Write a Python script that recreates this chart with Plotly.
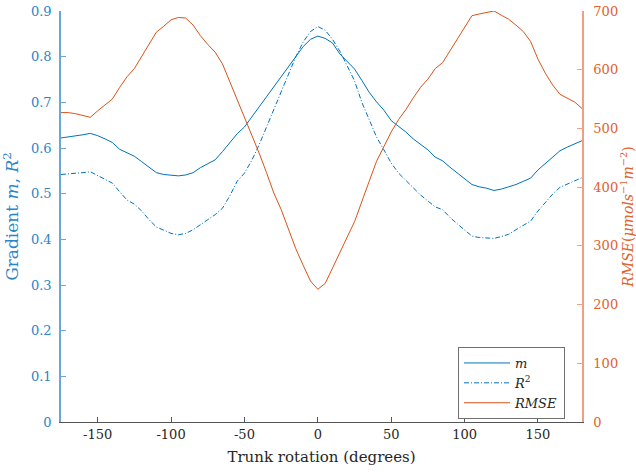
import plotly.graph_objects as go

# Trunk rotation angle (degrees), sampled every 5 degrees
rotation = list(range(-175, 181, 5))

# Gradient m of the fit at each rotation
gradient_m = [
    0.622, 0.624, 0.626, 0.629, 0.632, 0.627, 0.620, 0.612, 0.597, 0.590,
    0.582, 0.570, 0.558, 0.546, 0.542, 0.540, 0.539, 0.541, 0.546, 0.557,
    0.566, 0.574, 0.592, 0.612, 0.631, 0.646, 0.667, 0.690, 0.712, 0.734,
    0.757, 0.779, 0.801, 0.822, 0.838, 0.845, 0.840, 0.830, 0.806, 0.789,
    0.773, 0.748, 0.722, 0.701, 0.683, 0.660, 0.648, 0.635, 0.620, 0.607,
    0.596, 0.580, 0.572, 0.558, 0.546, 0.532, 0.520, 0.515, 0.512, 0.507,
    0.510, 0.515, 0.520, 0.527, 0.534, 0.552, 0.566, 0.580, 0.594, 0.602,
    0.609, 0.616,
]

# Coefficient of determination R^2
r_squared = [
    0.542, 0.543, 0.545, 0.546, 0.548, 0.540, 0.531, 0.523, 0.504, 0.486,
    0.477, 0.462, 0.443, 0.427, 0.420, 0.413, 0.410, 0.413, 0.421, 0.433,
    0.443, 0.454, 0.468, 0.495, 0.527, 0.545, 0.573, 0.607, 0.645, 0.683,
    0.722, 0.762, 0.800, 0.832, 0.855, 0.866, 0.858, 0.838, 0.812, 0.780,
    0.747, 0.700, 0.660, 0.624, 0.596, 0.567, 0.545, 0.528, 0.513, 0.497,
    0.483, 0.471, 0.465, 0.448, 0.434, 0.420, 0.407, 0.404, 0.403, 0.402,
    0.406, 0.411, 0.421, 0.430, 0.440, 0.462, 0.481, 0.499, 0.514, 0.521,
    0.527, 0.535,
]

# Root mean square error (umol s^-1 m^-2)
rmse = [
    527, 527, 525, 522, 519, 530, 540, 550, 570, 588,
    602, 622, 642, 664, 674, 685, 689, 688, 676, 658,
    643, 630, 610, 580, 548, 520, 490, 458, 425, 390,
    362, 327, 295, 267, 240, 226, 236, 262, 290, 315,
    341, 374, 410, 444, 469, 494, 515, 532, 552, 570,
    584, 602, 612, 632, 652, 670, 692, 695, 698, 700,
    693, 686, 676, 665, 648, 618, 594, 574, 558, 551,
    545, 534,
]

left_ticks = [0, 0.1, 0.2, 0.3, 0.4, 0.5, 0.6, 0.7, 0.8, 0.9]
right_ticks = [0, 100, 200, 300, 400, 500, 600, 700]
x_ticks = [-150, -100, -50, 0, 50, 100, 150]

BLUE = "#0072BD"
ORANGE = "#D95319"
SERIF = "DejaVu Serif"

fig = go.Figure()

fig.add_trace(go.Scatter(
    x=rotation, y=gradient_m, mode="lines", name="<i>m</i>",
    line=dict(color=BLUE, width=1.0), yaxis="y",
))
fig.add_trace(go.Scatter(
    x=rotation, y=r_squared, mode="lines", name="<i>R</i><sup>2</sup>",
    line=dict(color=BLUE, width=1.0, dash="5px,2px,1px,2px"), yaxis="y",
))
fig.add_trace(go.Scatter(
    x=rotation, y=rmse, mode="lines", name="<i>RMSE</i>",
    line=dict(color=ORANGE, width=1.0), yaxis="y2",
))

fig.update_layout(
    width=636, height=474,
    margin=dict(l=61, r=54, t=11, b=52, autoexpand=False),
    paper_bgcolor="white", plot_bgcolor="white",
    font=dict(family=SERIF, size=13, color="#262626"),
    showlegend=True,
    legend=dict(
        x=0.762, y=0.1825, xanchor="left", yanchor="top",
        bgcolor="white", bordercolor="#707070", borderwidth=1,
        font=dict(family=SERIF, size=13, color="#262626"),
        tracegroupgap=0, itemwidth=46,
    ),
    xaxis=dict(
        range=[-175, 180], tickvals=x_ticks,
        ticktext=[str(v) for v in x_ticks],
        ticks="inside", ticklen=5, tickcolor="#555555",
        showline=True, linecolor="#555555", linewidth=1,
        showgrid=False, zeroline=False, mirror=False, automargin=False,
        tickfont=dict(family=SERIF, size=13, color="#262626"),
        title=dict(text="Trunk rotation (degrees)", standoff=10,
                   font=dict(family=SERIF, size=15, color="#262626")),
    ),
    yaxis=dict(
        range=[0, 0.9], tickvals=left_ticks,
        ticktext=[("%g" % v) for v in left_ticks],
        ticks="inside", ticklen=5, tickcolor="#6aa7d6",
        showline=True, linecolor="#6aa7d6", linewidth=1.5,
        showgrid=False, zeroline=False, automargin=False,
        tickfont=dict(family=SERIF, size=13, color="#2a86c8"),
        ticklabelstandoff=5,
        title=dict(text="Gradient <i>m</i>, <i>R</i><sup>2</sup>", standoff=10,
                   font=dict(family=SERIF, size=17, color="#2a86c8")),
    ),
    yaxis2=dict(
        range=[0, 700], tickvals=right_ticks,
        ticktext=[str(v) for v in right_ticks],
        overlaying="y", side="right", anchor="x",
        ticks="inside", ticklen=5, tickcolor="#f0a080",
        showline=True, linecolor="#f0a080", linewidth=1.5,
        showgrid=False, zeroline=False, automargin=False,
        tickfont=dict(family=SERIF, size=13, color="#e0612c"),
        ticklabelstandoff=7,
        title=dict(
            text="<i>RMSE</i>(<i>μmols</i><sup>−1</sup><i>m</i><sup>−2</sup>)",
            standoff=10, font=dict(family=SERIF, size=14, color="#e0612c")),
    ),
)

fig.write_html("out.html")
